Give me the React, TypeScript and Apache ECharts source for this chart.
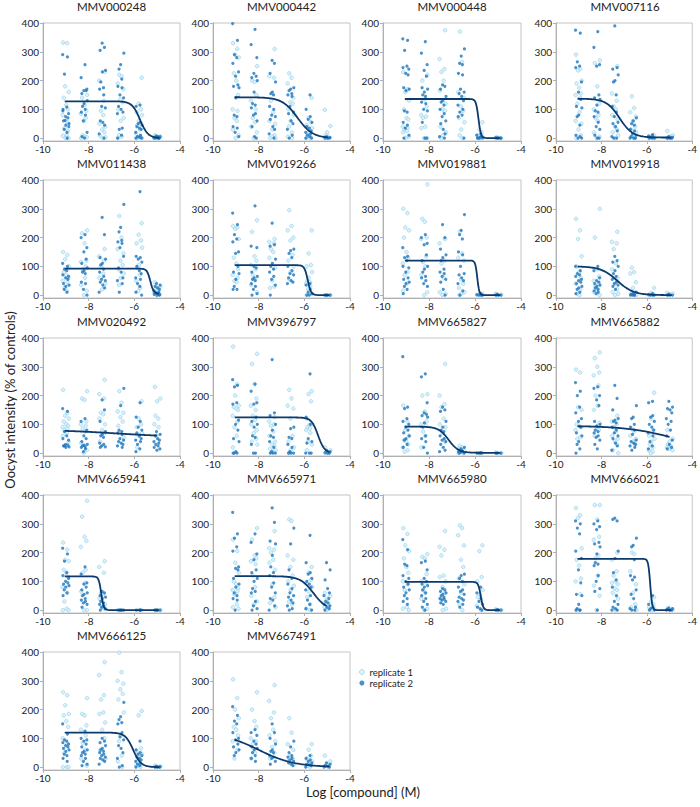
import React, { useEffect, useRef } from "react";
import * as echarts from "echarts";

const DOSES = [-9, -8.2, -7.4, -6.6, -5.8, -5.0];
const X_TICKS = [-10, -8, -6, -4];
const Y_TICKS = [0, 100, 200, 300, 400];
const COMPOUNDS = [
  "MMV000248", "MMV000442", "MMV000448", "MMV007116",
  "MMV011438", "MMV019266", "MMV019881", "MMV019918",
  "MMV020492", "MMV396797", "MMV665827", "MMV665882",
  "MMV665941", "MMV665971", "MMV665980", "MMV666021",
  "MMV666125", "MMV667491",
];
// fitted dose-response parameters
const FIT_TOP = [128, 142, 136, 137, 92, 104, 120, 100, 82, 124, 92, 95, 117, 118, 98, 178, 120, 120];
const FIT_BOTTOM = [0, 0, 0, 2, 5, 0, 0, 0, 55, 0, 1, 0, 0, 0, 0, 0, 0, 0];
const FIT_LOGEC50 = [-5.75, -6.3, -5.85, -7.2, -5.3, -5.85, -5.9, -7.3, -6.8, -5.4, -7.15, -4.6, -7.45, -5.6, -5.75, -5.85, -6.05, -8.0];
const FIT_HILL = [2.5, 1.3, 8, 1.5, 6, 6, 10, 1.2, 0.3, 3, 2, 0.4, 8, 1.5, 8, 10, 2.5, 0.55];
const FIT_XEND = [-4.9, -4.95, -4.9, -4.9, -4.9, -4.9, -4.9, -4.9, -5.0, -4.9, -4.9, -5.0, -4.9, -5.0, -4.9, -4.9, -4.9, -4.9];

const JITTER = [-0.12, 0.06, -0.03, 0.13, -0.09, 0.02, 0.1, -0.14, 0.07, -0.06, 0.04, -0.13, 0.12, -0.01, 0.09, -0.1, 0.14, 0.0, -0.07, 0.05];

const MMV000248_R1 = [[332, 330, 180, 160, 140, 115, 100, 80, 55, 35, 12, 8, 0, 0, 25], [150, 140, 115, 95, 85, 70, 10, 5, 0, 3, 60], [230, 200, 130, 95, 80, 50, 40, 30, 20, 8, 2, 0], [220, 215, 190, 170, 135, 125, 100, 70, 60, 10, 5, 0], [210, 120, 100, 90, 80, 60, 45, 30, 15, 5, 2, 0, 0], [10, 5, 3, 0, 0, 2, 1]];
const MMV000248_R2 = [[290, 282, 222, 108, 95, 85, 75, 70, 60, 50, 45, 30, 20, 100, 0, 62, 40], [255, 210, 170, 165, 165, 155, 130, 120, 110, 100, 90, 80, 60, 20, 5, 0], [330, 315, 305, 235, 230, 195, 175, 170, 150, 110, 105, 60, 55, 45, 15, 0], [295, 255, 240, 205, 180, 175, 150, 140, 110, 100, 90, 85, 35, 30, 10, 0], [115, 110, 55, 50, 45, 40, 35, 30, 20, 10, 5, 3, 0, 0], [8, 5, 3, 2, 0, 0, 0, 1, 4]];
const MMV000442_R1 = [[330, 310, 290, 280, 225, 200, 150, 100, 95, 70, 60, 30, 10, 0], [250, 200, 195, 150, 130, 100, 70, 55, 40, 20, 0], [310, 215, 210, 130, 90, 60, 50, 30, 10, 0, 0, 5], [225, 210, 190, 140, 125, 120, 100, 80, 60, 40, 20, 5, 0], [140, 70, 55, 45, 35, 20, 10, 5, 0, 0], [98, 42, 20, 10, 5, 2, 0, 0]];
const MMV000442_R2 = [[398, 340, 290, 280, 260, 230, 215, 185, 180, 175, 140, 80, 75, 40, 35, 20, 5], [378, 325, 280, 225, 215, 210, 200, 160, 120, 115, 105, 85, 80, 60, 40, 5, 0], [270, 260, 225, 195, 160, 155, 150, 110, 100, 80, 75, 65, 40, 30, 15, 0], [175, 170, 165, 155, 150, 145, 110, 90, 85, 60, 50, 30, 10, 0], [150, 100, 75, 65, 55, 40, 35, 25, 20, 15, 10, 5, 0, 0], [5, 2, 0, 0, 1]];
const MMV000448_R1 = [[230, 170, 160, 130, 100, 70, 65, 40, 35, 30, 25, 20, 5, 0], [220, 200, 135, 110, 80, 75, 70, 40, 35, 0, 0], [375, 275, 240, 230, 200, 165, 120, 100, 95, 40, 20, 10, 0], [370, 265, 160, 140, 110, 95, 70, 55, 30, 10, 0], [55, 30, 20, 10, 5, 0, 0, 0], [0, 0, 1, 3]];
const MMV000448_R2 = [[345, 340, 305, 250, 245, 240, 225, 220, 175, 170, 165, 95, 90, 55, 45, 35, 10, 0], [335, 295, 255, 235, 215, 175, 170, 160, 150, 145, 125, 120, 100, 95, 55, 0, 0], [185, 180, 170, 145, 130, 125, 115, 100, 85, 75, 60, 50, 30, 15, 5, 0], [310, 285, 260, 255, 225, 220, 170, 160, 155, 145, 130, 115, 100, 90, 80, 75, 0], [15, 10, 5, 0, 0, 0, 2], [0, 0, 2, 1, 0]];
const MMV007116_R1 = [[290, 240, 235, 200, 190, 175, 155, 150, 140, 120, 90, 60, 50, 30, 10, 0], [270, 260, 180, 120, 100, 80, 70, 60, 20, 5, 0], [250, 155, 130, 110, 100, 80, 65, 40, 30, 20, 10, 0], [145, 105, 90, 75, 60, 40, 30, 20, 10, 5, 0], [10, 5, 2, 0, 0], [25, 10, 5, 2, 0, 0]];
const MMV007116_R2 = [[375, 365, 265, 250, 245, 195, 160, 135, 110, 105, 80, 75, 45, 10, 5, 0, 0], [370, 315, 255, 250, 150, 140, 135, 115, 95, 90, 75, 55, 40, 30, 10, 0, 0], [390, 245, 240, 220, 200, 195, 150, 110, 90, 75, 55, 50, 40, 25, 5, 0, 0], [70, 60, 50, 45, 30, 25, 15, 10, 5, 0, 0, 0], [12, 8, 5, 3, 0, 0, 0], [5, 3, 0, 0, 0]];
const MMV011438_R1 = [[150, 140, 125, 100, 80, 70, 60, 50, 45, 25, 15], [225, 215, 180, 120, 115, 100, 90, 60, 35, 15, 0], [160, 135, 120, 100, 75, 60, 40, 20], [275, 200, 160, 145, 120, 105, 90, 75, 60, 35], [250, 210, 190, 180, 165, 105, 95, 70, 50, 25, 15], [45, 30, 25, 20, 15, 10, 5, 0]];
const MMV011438_R2 = [[110, 100, 90, 85, 70, 65, 60, 55, 40, 35, 30, 20, 10], [210, 200, 165, 150, 125, 110, 95, 85, 80, 75, 45, 40, 20, 0], [270, 210, 130, 125, 110, 105, 90, 80, 65, 55, 50, 45, 35, 25, 10], [315, 235, 220, 190, 185, 180, 165, 135, 95, 80, 60, 50, 40, 10], [360, 135, 130, 125, 115, 100, 85, 75, 60, 55, 40, 30, 10, 0], [40, 35, 30, 25, 20, 15, 10, 8, 5, 3, 2, 0, 0]];
const MMV019266_R1 = [[240, 235, 230, 195, 130, 110, 90, 70, 60, 50, 45], [260, 220, 135, 120, 105, 90, 70, 55, 35, 10], [195, 185, 180, 160, 150, 130, 95, 50, 30, 25], [295, 240, 225, 200, 190, 140, 120, 100, 80, 55], [225, 145, 105, 100, 80, 60, 50, 45, 40, 30, 20, 5, 0], [0, 0, 0]];
const MMV019266_R2 = [[285, 245, 210, 195, 185, 150, 145, 100, 80, 75, 55, 30, 20, 20], [310, 170, 165, 100, 95, 80, 65, 60, 55, 50, 40, 30, 20, 5, 0], [250, 175, 170, 125, 110, 100, 90, 80, 65, 55, 35, 0], [160, 155, 145, 130, 100, 85, 75, 70, 60, 50, 45, 40], [40, 35, 20, 10, 5, 0, 0], [0, 0, 0, 0]];
const MMV019881_R1 = [[300, 285, 235, 225, 200, 150, 130, 110, 80, 70, 40, 15], [385, 265, 255, 200, 195, 135, 115, 100, 70, 10, 0], [195, 180, 120, 110, 60, 10, 5, 0], [220, 145, 130, 120, 55, 40, 25, 10, 5, 0], [5, 3, 0, 0], [5, 2, 0, 0]];
const MMV019881_R2 = [[165, 135, 130, 120, 100, 95, 80, 60, 55, 45, 40, 30, 20, 5], [210, 200, 180, 175, 140, 120, 100, 90, 80, 65, 60, 50, 40, 30], [245, 200, 160, 140, 130, 120, 90, 80, 75, 65, 55, 45, 20, 0], [280, 225, 210, 195, 150, 140, 100, 75, 70, 60, 50, 40, 15, 0], [5, 2, 0, 0, 0], [3, 0, 0, 0]];
const MMV019918_R1 = [[265, 225, 195, 135, 100, 80, 60, 40, 20, 5, 0], [300, 200, 90, 65, 50, 40, 30, 20, 10, 0], [220, 185, 180, 160, 110, 90, 60, 40, 20, 10, 5, 0], [95, 80, 75, 45, 25, 10, 5, 0], [25, 8, 3, 0], [8, 5, 2, 0]];
const MMV019918_R2 = [[100, 85, 75, 70, 65, 55, 50, 45, 40, 30, 25, 20, 10, 5], [100, 85, 60, 50, 45, 40, 35, 30, 25, 20, 15, 10, 5], [135, 120, 115, 100, 85, 75, 65, 55, 45, 40, 35, 30, 20], [10, 5, 3, 0, 0, 0, 0], [5, 2, 0, 0, 0], [3, 0, 0, 0]];
const MMV020492_R1 = [[220, 140, 130, 120, 110, 100, 95, 90, 85, 80, 70, 60, 40], [215, 190, 185, 110, 100, 95, 85, 75, 35, 10, 0], [255, 205, 190, 140, 135, 120, 100, 80, 70, 40], [215, 175, 145, 140, 125, 110, 95, 55], [180, 120, 100, 90, 70, 60, 20], [230, 190, 180, 130, 120, 100, 90, 60]];
const MMV020492_R2 = [[155, 145, 75, 60, 50, 45, 30, 28, 25, 22, 20, 25], [120, 110, 80, 60, 50, 40, 30, 28, 25, 22, 20, 15, 5], [185, 150, 110, 75, 65, 60, 55, 35, 30, 25, 22, 20], [225, 165, 80, 75, 70, 65, 50, 45, 40, 35, 30, 25, 20], [175, 125, 110, 90, 80, 70, 60, 50, 45, 40, 30, 15, 5], [75, 65, 60, 50, 45, 40, 35, 30, 25, 20, 15, 10]];
const MMV396797_R1 = [[370, 240, 200, 165, 160, 155, 150, 130, 110, 90, 60, 20], [345, 310, 240, 190, 165, 150, 130, 115, 100, 80, 70, 50, 40, 30], [125, 110, 100, 95, 75, 60, 40, 30, 25, 15, 10, 5], [220, 190, 165, 155, 120, 60, 40, 20, 10, 0], [215, 205, 180, 120, 100, 95, 90, 85, 80, 70, 40, 30, 10], [20, 10, 5, 0, 0]];
const MMV396797_R2 = [[255, 235, 230, 175, 170, 115, 100, 80, 50, 40, 5, 0, 0, 0], [240, 215, 175, 170, 125, 110, 100, 90, 60, 55, 30, 0, 0], [325, 140, 130, 100, 80, 60, 55, 40, 20, 5, 0, 0, 0], [90, 85, 55, 50, 30, 20, 5, 0, 0, 0], [275, 125, 100, 50, 40, 35, 0, 0, 0], [10, 5, 2, 0, 0]];
const MMV665827_R1 = [[165, 110, 80, 60, 45, 40, 30, 20, 10, 5], [205, 200, 145, 110, 100, 95, 75, 60, 20], [310, 200, 170, 160, 120, 100, 90, 70, 40], [25, 20, 15, 10, 5, 0, 0], [0, 0, 0], [2, 0, 0]];
const MMV665827_R2 = [[335, 160, 155, 120, 110, 100, 90, 80, 70, 60, 50, 45, 30, 20], [275, 265, 175, 140, 135, 130, 125, 105, 90, 60, 50, 40, 20, 0], [160, 150, 145, 110, 90, 80, 75, 60, 50, 45, 40, 30, 20, 10, 5], [20, 15, 10, 8, 5, 5, 3, 0, 0], [2, 0, 0, 0], [0, 0, 0]];
const MMV665882_R1 = [[290, 280, 160, 150, 100, 95, 90, 80, 55, 50], [350, 330, 300, 280, 270, 235, 200, 165, 150, 105, 90, 80, 60], [130, 110, 100, 90, 75, 60, 50, 40, 30, 10, 0], [85, 75, 60, 50, 40, 30], [210, 120, 80, 60, 50, 40, 30, 20, 10, 5, 0], [80, 50, 40, 30, 25, 20, 18, 15, 10]];
const MMV665882_R2 = [[245, 215, 200, 160, 140, 120, 110, 90, 70, 60, 40, 30, 15, 0], [230, 225, 200, 185, 165, 110, 100, 95, 80, 75, 70, 60, 55, 45, 30, 15], [235, 190, 150, 120, 115, 110, 105, 90, 80, 70, 60, 50, 35, 25, 10], [165, 125, 120, 100, 90, 80, 65, 45, 40, 35, 30, 25, 20, 10], [180, 175, 130, 125, 110, 100, 90, 80, 70, 60, 40, 25, 15], [180, 160, 155, 150, 140, 120, 110, 100, 80, 60, 45, 30, 20, 15]];
const MMV665941_R1 = [[235, 210, 175, 170, 140, 130, 115, 80, 60, 30, 5, 0, 0], [380, 325, 255, 240, 220, 140, 130, 95, 65, 0, 0], [170, 150, 130, 60, 55, 40, 20, 10, 5], [0, 0, 0], [0, 0, 0], [0, 0, 0]];
const MMV665941_R2 = [[215, 195, 170, 130, 120, 110, 100, 95, 90, 85, 80, 70, 60, 50], [150, 125, 95, 90, 80, 70, 60, 55, 50, 40, 35, 30, 25, 20, 10], [65, 60, 50, 45, 40, 30, 25, 20, 15, 10, 5, 0], [0, 0, 0, 0], [0, 0, 0], [0, 0, 0, 0]];
const MMV665971_R1 = [[245, 205, 165, 130, 100, 90, 75, 70, 65, 55, 20, 10, 5], [285, 245, 190, 180, 170, 160, 120, 80, 50, 30, 20], [275, 215, 210, 200, 175, 165, 140, 90, 45, 25, 10], [315, 310, 190, 175, 150, 120, 100, 85, 70, 30, 20], [150, 130, 105, 95, 80, 65, 45, 20, 5, 0], [60, 50, 40, 30, 20, 10, 5, 0]];
const MMV665971_R2 = [[340, 265, 250, 220, 205, 150, 145, 140, 110, 90, 80, 60, 50, 40, 35, 0], [265, 235, 195, 175, 140, 130, 110, 100, 75, 65, 60, 30, 15, 5, 0], [355, 305, 240, 230, 190, 150, 130, 120, 95, 80, 60, 40, 35, 15, 0], [285, 230, 140, 110, 90, 75, 60, 50, 45, 35, 25, 15, 5, 0], [260, 165, 130, 125, 110, 100, 90, 80, 70, 50, 35, 20, 5, 0], [165, 140, 105, 75, 60, 50, 40, 30, 25, 20, 15, 10, 5, 0]];
const MMV665980_R1 = [[285, 265, 225, 205, 180, 150, 130, 100, 90, 70, 10, 5, 0], [195, 185, 180, 125, 100, 95, 70, 60, 40, 5, 0], [275, 220, 210, 190, 120, 115, 100, 80, 60, 40, 5, 0], [295, 285, 260, 225, 175, 150, 110, 90, 60, 20, 0], [225, 205, 115, 100, 70, 55, 45, 30, 15, 0], [3, 0, 0]];
const MMV665980_R2 = [[245, 210, 160, 155, 120, 110, 100, 90, 80, 70, 60, 50, 40, 30, 20], [170, 165, 140, 110, 100, 90, 85, 80, 70, 60, 50, 40, 30, 20, 10, 0], [75, 70, 65, 60, 55, 50, 45, 40, 38, 35, 30, 25, 20], [125, 120, 110, 100, 80, 70, 65, 55, 45, 40, 35, 30, 20, 10], [80, 60, 40, 30, 20, 10, 5, 0], [2, 0, 0, 0]];
const MMV666021_R1 = [[355, 330, 320, 215, 175, 155, 110, 100, 55, 0], [365, 365, 315, 255, 245, 190, 180, 120, 85, 50, 0], [200, 175, 135, 120, 100, 95, 90, 75, 70, 60, 40, 0], [200, 195, 135, 90, 60, 20, 10, 0], [45, 30, 20, 10, 5, 0], [5, 2, 0]];
const MMV666021_R2 = [[310, 300, 285, 265, 205, 180, 140, 95, 55, 50, 20, 5, 0, 0, 0], [310, 300, 290, 280, 235, 230, 220, 195, 165, 160, 155, 120, 100, 75, 65, 0], [320, 310, 315, 205, 180, 130, 105, 80, 50, 30, 20, 10, 5, 0, 0], [250, 225, 220, 175, 120, 115, 105, 70, 55, 40, 10, 5, 0, 0], [50, 20, 10, 5, 0, 0], [8, 5, 3, 0, 0, 0]];
const MMV666125_R1 = [[260, 250, 215, 185, 180, 160, 140, 100, 80, 50, 0, 0, 0], [240, 185, 180, 145, 130, 110, 85, 60, 30, 5], [365, 320, 250, 235, 190, 185, 155, 130, 100, 60, 30], [398, 330, 300, 290, 270, 255, 235, 190, 110, 90, 40, 20, 0], [195, 180, 65, 55, 45, 35, 20, 10, 5, 0], [5, 2, 0, 0]];
const MMV666125_R2 = [[150, 115, 95, 90, 85, 80, 75, 70, 65, 60, 55, 45, 40, 30, 20], [125, 100, 95, 90, 80, 70, 60, 55, 50, 45, 40, 30, 20, 10, 5], [100, 90, 85, 75, 65, 60, 55, 50, 45, 40, 35, 30, 25, 20, 10], [225, 175, 165, 155, 150, 120, 105, 95, 75, 65, 50, 30, 5, 0], [90, 60, 50, 45, 40, 35, 30, 25, 20, 15, 10, 5, 0], [3, 2, 0, 0, 0]];
const MMV667491_R1 = [[305, 240, 200, 170, 140, 130, 110, 90, 60, 30], [260, 200, 160, 140, 100, 90, 80, 50, 30], [285, 230, 190, 170, 130, 110, 90, 70, 50, 30], [170, 120, 80, 60, 40, 30, 20, 10], [80, 60, 40, 30, 20, 10, 5, 0], [40, 20, 10, 5, 0]];
const MMV667491_R2 = [[210, 180, 160, 150, 120, 100, 95, 80, 70, 60, 50, 40], [130, 120, 110, 90, 80, 70, 65, 60, 50, 40, 30, 20], [150, 120, 100, 80, 60, 55, 50, 40, 35, 30, 20, 10], [90, 70, 50, 40, 35, 30, 25, 20, 15, 10, 5], [40, 30, 25, 20, 15, 10, 8, 5, 0], [15, 10, 5, 3, 0, 0]];

const REP1 = [MMV000248_R1, MMV000442_R1, MMV000448_R1, MMV007116_R1, MMV011438_R1, MMV019266_R1, MMV019881_R1, MMV019918_R1, MMV020492_R1, MMV396797_R1, MMV665827_R1, MMV665882_R1, MMV665941_R1, MMV665971_R1, MMV665980_R1, MMV666021_R1, MMV666125_R1, MMV667491_R1];
const REP2 = [MMV000248_R2, MMV000442_R2, MMV000448_R2, MMV007116_R2, MMV011438_R2, MMV019266_R2, MMV019881_R2, MMV019918_R2, MMV020492_R2, MMV396797_R2, MMV665827_R2, MMV665882_R2, MMV665941_R2, MMV665971_R2, MMV665980_R2, MMV666021_R2, MMV666125_R2, MMV667491_R2];

const COL_LEFT = [43, 213, 383, 556];
const COL_W = [137, 137, 138, 138];
const ROW_TOP = [23, 180, 338, 495, 652];
const PLOT_H = 118;
const FONT = "Lato, 'Open Sans', sans-serif";
const C_REP2 = "#1d76bd";
const C_CURVE = "#0c3a6c";
const REP1_STYLE = { color: "#d2edf9", borderColor: "#92cfeb", borderWidth: 0.8 };

function scatterData(rep: number[][], shift: number) {
  const out: number[][] = [];
  rep.forEach((vals, d) => {
    vals.forEach((v, i) => {
      out.push([DOSES[d] + JITTER[(i + shift + d * 3) % JITTER.length], v]);
    });
  });
  return out;
}

function curveData(k: number) {
  const out: number[][] = [];
  const x0 = -9.05;
  const x1 = FIT_XEND[k];
  const n = 160;
  for (let i = 0; i <= n; i++) {
    const x = x0 + ((x1 - x0) * i) / n;
    const y = FIT_BOTTOM[k] + (FIT_TOP[k] - FIT_BOTTOM[k]) / (1 + Math.pow(10, (x - FIT_LOGEC50[k]) * FIT_HILL[k]));
    out.push([x, y]);
  }
  return out;
}

export default function App() {
  const ref = useRef<HTMLDivElement>(null);
  useEffect(() => {
    if (!ref.current) return;
    document.body.style.margin = "0";
    const chart = echarts.init(ref.current, null, { renderer: "svg" });
    const grid: any[] = [];
    const xAxis: any[] = [];
    const yAxis: any[] = [];
    const series: any[] = [];
    const graphic: any[] = [];
    COMPOUNDS.forEach((name, k) => {
      const r = Math.floor(k / 4);
      const c = k % 4;
      grid.push({
        left: COL_LEFT[c], top: ROW_TOP[r], width: COL_W[c], height: PLOT_H,
        show: true, borderColor: "#c4c4c4", borderWidth: 1, backgroundColor: "transparent",
      });
      xAxis.push({
        type: "value", gridIndex: k, min: -10, max: -4, interval: 2,
        axisLine: { show: true, onZero: false, lineStyle: { color: "#b0b0b0" } },
        axisTick: { show: true, length: 3, lineStyle: { color: "#b0b0b0" }, customValues: X_TICKS },
        axisLabel: { fontSize: 10, color: "#222", fontFamily: FONT, margin: 3, customValues: X_TICKS },
        splitLine: { show: false },
      });
      yAxis.push({
        type: "value", gridIndex: k, min: -10, max: 400,
        axisLine: { show: true, onZero: false, lineStyle: { color: "#b0b0b0" } },
        axisTick: { show: true, length: 3, lineStyle: { color: "#b0b0b0" }, customValues: Y_TICKS },
        axisLabel: { fontSize: 10, color: "#222", fontFamily: FONT, margin: 4, customValues: Y_TICKS },
        splitLine: { show: false },
      });
      series.push({
        type: "scatter", name: "replicate 1", xAxisIndex: k, yAxisIndex: k,
        data: scatterData(REP1[k], 0), symbol: "circle", symbolSize: 3.6,
        itemStyle: REP1_STYLE,
      });
      series.push({
        type: "scatter", name: "replicate 2", xAxisIndex: k, yAxisIndex: k,
        data: scatterData(REP2[k], 7), symbol: "circle", symbolSize: 3.2,
        itemStyle: { color: C_REP2 },
      });
      series.push({
        type: "line", name: name + " fit", xAxisIndex: k, yAxisIndex: k,
        data: curveData(k), showSymbol: false, smooth: false, z: 5,
        lineStyle: { color: C_CURVE, width: 1.8 },
      });
      graphic.push({
        type: "text", x: COL_LEFT[c] + COL_W[c] / 2, y: ROW_TOP[r] - 17,
        style: { text: name, fontSize: 11.5, fontFamily: FONT, fill: "#222", align: "center", verticalAlign: "middle" },
      });
    });
    graphic.push({
      type: "text", x: 10, y: 400, rotation: Math.PI / 2,
      style: { text: "Oocyst intensity (% of controls)", fontSize: 13, fontFamily: FONT, fill: "#222", align: "center", verticalAlign: "middle" },
    });
    graphic.push({
      type: "text", x: 363, y: 792,
      style: { text: "Log [compound] (M)", fontSize: 13, fontFamily: FONT, fill: "#222", align: "center", verticalAlign: "middle" },
    });
    chart.setOption({
      animation: false,
      grid, xAxis, yAxis, series, graphic,
      legend: {
        data: [
          { name: "replicate 1", icon: "circle", itemStyle: REP1_STYLE },
          { name: "replicate 2", icon: "circle", itemStyle: { color: C_REP2 } },
        ],
        orient: "vertical", left: 359, top: 667, padding: 0, itemWidth: 5, itemHeight: 5, itemGap: 1,
        selectedMode: false,
        textStyle: { fontSize: 9.5, fontFamily: FONT, color: "#222" },
      },
    });
    return () => chart.dispose();
  }, []);
  return <div ref={ref} style={{ width: 700, height: 807 }} />;
}
